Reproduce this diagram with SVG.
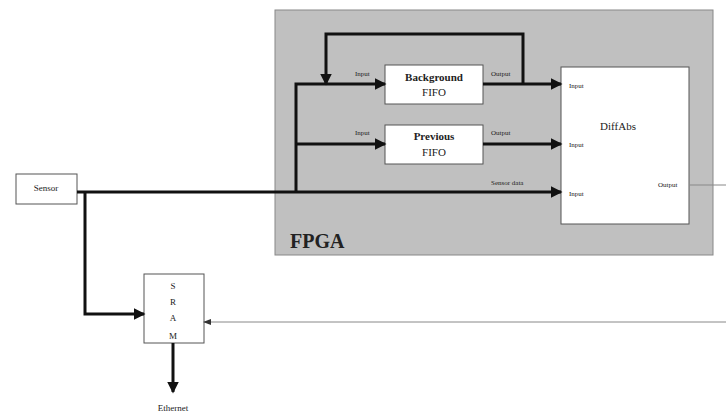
<svg xmlns="http://www.w3.org/2000/svg" width="726" height="414" viewBox="0 0 726 414">
<style>
text{font-family:"Liberation Serif",serif;fill:#222}
.s{font-size:7px}
.m{font-size:11px}
.b{font-size:11px;font-weight:bold}
.box{fill:#fff;stroke:#555;stroke-width:1}
.w{fill:none;stroke:#111;stroke-width:3}
.t{fill:none;stroke:#888;stroke-width:1}
</style>
<defs>
<marker id="a" markerWidth="4" markerHeight="4" refX="3.5" refY="2" orient="auto" markerUnits="strokeWidth">
<path d="M0,0 L4,2 L0,4 z" fill="#111"/>
</marker>
<marker id="as" markerWidth="8" markerHeight="6" refX="7" refY="3" orient="auto" markerUnits="userSpaceOnUse">
<path d="M0,0 L8,3 L0,6 z" fill="#333"/>
</marker>
</defs>
<rect width="726" height="414" fill="#fff"/>
<g id="fpga">
<rect x="275" y="10" width="438" height="245" fill="#c0c0c0" stroke="#888" stroke-width="1"/>
<text x="290" y="248" style="font-size:20px;font-weight:bold">FPGA</text>
</g>
<g id="bgfifo">
<rect class="box" x="385" y="65" width="98" height="39"/>
<text class="b" x="434" y="81" text-anchor="middle">Background</text>
<text class="m" x="434" y="96" text-anchor="middle">FIFO</text>
</g>
<g id="prevfifo">
<rect class="box" x="385" y="125" width="98" height="39"/>
<text class="b" x="434" y="140" text-anchor="middle">Previous</text>
<text class="m" x="434" y="156" text-anchor="middle">FIFO</text>
</g>
<g id="diffabs">
<rect class="box" x="561" y="67" width="128" height="157"/>
<text class="m" x="618" y="130" text-anchor="middle">DiffAbs</text>
<text class="s" x="569" y="88">Input</text>
<text class="s" x="569" y="147">Input</text>
<text class="s" x="569" y="196">Input</text>
<text class="s" x="658" y="187">Output</text>
</g>
<g id="sensor">
<rect class="box" x="16" y="174" width="61" height="30"/>
<text class="s" x="46" y="191" text-anchor="middle" style="font-size:9px">Sensor</text>
</g>
<g id="sram">
<rect class="box" x="144" y="274" width="60" height="69"/>
<text class="s" x="173" y="289" text-anchor="middle" style="font-size:9px">S</text>
<text class="s" x="173" y="305" text-anchor="middle" style="font-size:9px">R</text>
<text class="s" x="173" y="321" text-anchor="middle" style="font-size:9px">A</text>
<text class="s" x="173" y="339" text-anchor="middle" style="font-size:9px">M</text>
</g>
<g id="ethernet">
<text class="s" x="173" y="411" text-anchor="middle" style="font-size:9px">Ethernet</text>
</g>
<g id="connectors">
<path class="w" d="M77,192 H561" marker-end="url(#a)"/>
<path class="w" d="M296,192 V84 H385" marker-end="url(#a)"/>
<path class="w" d="M296,144 H385" marker-end="url(#a)"/>
<path class="w" d="M483,84 H561" marker-end="url(#a)"/>
<path class="w" d="M483,144 H561" marker-end="url(#a)"/>
<path class="w" d="M523,84 V34 H326 V84" marker-end="url(#a)"/>
<path class="w" d="M85,192 V314 H144" marker-end="url(#a)"/>
<path class="w" d="M173,343 V392" marker-end="url(#a)"/>
<path class="t" d="M689,185 H726"/>
<path class="t" d="M726,322 H204" marker-end="url(#as)"/>
<text class="s" x="355" y="76">Input</text>
<text class="s" x="355" y="135">Input</text>
<text class="s" x="491" y="76">Output</text>
<text class="s" x="491" y="135">Output</text>
<text class="s" x="491" y="185">Sensor data</text>
</g>
</svg>
